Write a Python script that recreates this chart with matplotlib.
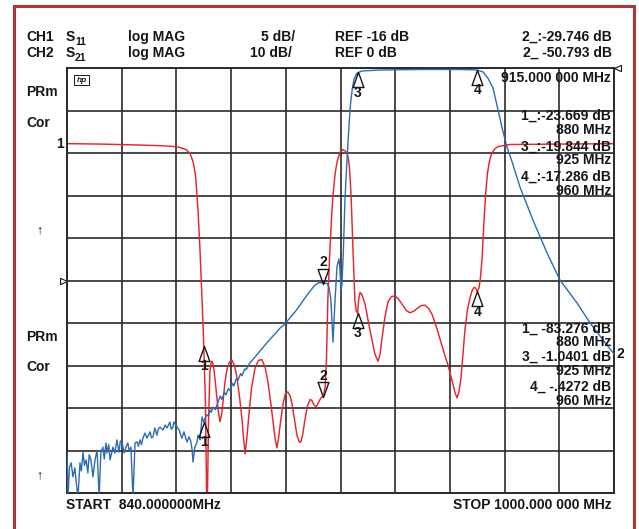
import numpy as np
import matplotlib
matplotlib.use("Agg")
import matplotlib.pyplot as plt
from matplotlib.path import Path
from matplotlib.patches import Rectangle

plt.rcParams['font.family'] = ['Liberation Sans', 'DejaVu Sans']

W, H = 639, 529  # output size in pixels

# sweep
f_start = 840.0
f_stop = 1000.0
f_div = 16.0

# CH1: S11 log MAG, 5 dB/div, REF -16 dB on the centre line
s11_ref = -16.0
s11_div = 5.0
s11_trace = [
    (840.0, 0.1), (850.0, 0.05), (860.0, -0.05), (868.0, -0.15), (871.6, -0.25),
    (873.0, -0.35), (874.8, -0.6), (876.0, -1.06), (876.85, -2.0), (877.3, -2.9),
    (877.7, -4.1), (878.3, -7.6), (878.9, -12.4), (879.5, -18.2), (880.0, -23.67),
    (880.5, -30.5), (880.95, -45.0),
    (881.4, -32.4), (881.8, -26.8), (882.1, -25.7), (882.4, -25.5), (882.8, -26.0),
    (883.3, -27.6), (884.2, -31.2), (884.75, -32.6),
    (885.2, -31.8), (885.6, -30.4), (886.2, -28.0), (886.8, -26.4), (887.5, -25.6),
    (888.3, -25.4), (889.0, -26.0), (889.7, -27.4), (890.5, -29.8), (891.2, -32.4),
    (891.7, -34.8), (892.1, -36.4),
    (892.6, -34.6), (893.2, -31.8), (894.0, -28.6), (895.0, -26.3), (896.0, -25.4),
    (897.0, -25.3), (898.0, -26.3), (898.8, -28.0), (899.6, -30.4), (900.25, -32.6),
    (900.9, -34.7), (901.4, -35.7),
    (901.9, -34.5), (902.6, -32.2), (903.3, -30.3), (903.9, -29.3), (904.6, -29.1),
    (905.3, -29.6), (905.8, -30.5), (906.6, -32.5), (907.3, -34.3), (908.0, -35.0),
    (908.4, -35.0),
    (908.9, -34.2), (909.6, -32.4), (910.3, -30.8), (911.1, -30.0), (911.6, -30.1),
    (912.2, -30.6), (912.8, -30.9), (913.4, -30.5), (914.0, -30.0), (914.6, -29.7),
    (915.0, -29.75), (915.5, -28.5), (915.9, -25.3), (916.3, -18.2), (916.9, -12.35),
    (917.4, -8.5), (917.8, -6.0), (918.4, -3.5), (919.0, -2.0), (919.85, -0.94),
    (920.7, -0.6), (921.6, -0.82), (922.2, -1.4), (922.6, -2.6), (923.1, -6.0),
    (923.65, -12.35), (924.2, -18.2), (924.6, -19.6), (925.0, -19.84),
    (925.3, -18.3), (925.7, -17.4), (926.2, -17.6), (927.2, -18.8), (928.6, -21.8),
    (930.1, -24.7), (931.0, -25.5), (931.6, -24.6), (932.1, -22.9), (933.0, -20.3),
    (933.9, -18.5), (934.9, -17.9), (935.9, -17.8), (937.0, -18.2), (938.0, -18.8),
    (939.2, -19.5), (940.3, -19.8), (941.5, -19.6), (942.7, -19.2), (943.7, -18.95),
    (944.7, -18.9), (945.8, -19.3), (946.8, -20.0), (948.0, -21.4), (949.1, -22.9),
    (950.3, -24.5), (951.4, -25.9), (952.2, -27.1), (952.9, -28.2), (953.5, -29.2),
    (954.1, -29.8), (954.6, -29.2), (955.2, -27.6), (955.8, -24.8), (956.4, -21.8),
    (957.1, -19.5), (957.9, -18.0), (958.5, -17.2), (959.05, -16.8), (959.5, -16.9),
    (960.0, -17.29), (960.5, -16.9), (960.9, -15.8), (961.4, -13.5), (962.0, -8.8),
    (962.55, -5.3), (963.0, -3.4), (963.4, -2.35), (964.0, -1.3), (964.6, -0.82),
    (965.3, -0.45), (966.1, -0.24), (969.6, 0.0), (985.0, 0.05), (1000.0, 0.1),
]

# CH2: S21 log MAG, 10 dB/div, REF 0 dB on the top line
s21_ref = 0.0
s21_div = 10.0
s21_trace = [
    (840.0, -90.6), (840.3, -101.0), (840.7, -94.0), (841.2, -92.9), (841.75, -96.2),
    (842.3, -94.1), (842.7, -97.5), (843.2, -101.0), (843.8, -92.9), (844.2, -94.8),
    (844.7, -90.4), (845.1, -93.5), (845.6, -92.2), (846.1, -95.3), (846.5, -91.0),
    (847.0, -92.2), (847.6, -96.2), (848.2, -92.2), (848.8, -89.9), (849.4, -101.0),
    (849.9, -90.6), (850.5, -89.2), (850.9, -92.0), (851.4, -88.2), (851.7, -90.6),
    (852.2, -88.6), (852.6, -92.2), (853.45, -89.2), (854.0, -90.6), (854.6, -87.5),
    (855.2, -90.4), (855.6, -87.8), (856.1, -88.0), (856.7, -90.6), (857.25, -89.2),
    (857.8, -88.2), (858.2, -90.2), (858.7, -89.2), (859.3, -101.0), (859.9, -88.2),
    (860.5, -88.0), (860.9, -89.0), (861.35, -87.5), (861.8, -88.6), (862.2, -87.1),
    (862.8, -85.9), (863.4, -87.1), (864.3, -85.6), (864.7, -87.0), (865.15, -86.8),
    (865.7, -84.7), (866.3, -86.4), (866.7, -85.0), (867.2, -84.5), (868.1, -85.2),
    (868.7, -84.0), (869.25, -84.7), (870.1, -83.3), (870.5, -85.0), (871.0, -84.5),
    (871.3, -83.3), (872.2, -84.5), (872.8, -85.2), (873.6, -87.1), (874.2, -85.6),
    (875.1, -88.0), (875.7, -86.8), (876.2, -87.8), (876.6, -89.9), (876.85, -92.7),
    (877.4, -89.2), (878.0, -88.2), (878.3, -86.4), (878.9, -87.5), (879.5, -82.1),
    (880.0, -83.3), (880.5, -82.2), (880.95, -81.6), (881.4, -81.9), (881.8, -80.5),
    (882.2, -81.0), (882.7, -79.8), (883.4, -80.4), (884.2, -78.6), (884.8, -77.2),
    (885.3, -78.0), (886.0, -76.3), (886.5, -76.9), (887.2, -75.4), (887.7, -75.9),
    (888.4, -74.2), (888.85, -74.8), (889.5, -73.1), (890.0, -73.5), (890.8, -71.9),
    (891.2, -72.4), (892.0, -70.8), (892.4, -71.0), (893.5, -69.4), (895.0, -68.0),
    (896.45, -66.6), (897.9, -65.2), (899.4, -63.8), (900.8, -62.6), (902.3, -61.2),
    (903.8, -60.2), (905.2, -58.8), (906.7, -57.4), (908.15, -55.8), (909.6, -54.1),
    (911.1, -52.5), (912.5, -51.1), (913.7, -50.5), (914.9, -50.6), (916.05, -50.7),
    (916.6, -51.5), (917.2, -54.6), (917.8, -64.5), (918.4, -54.6), (919.0, -46.6),
    (919.55, -44.9), (919.85, -47.5), (920.1, -52.2), (920.4, -51.3), (920.85, -42.8),
    (921.3, -31.1), (921.9, -21.6), (922.5, -13.4), (922.9, -8.7), (923.4, -5.2),
    (923.95, -2.6), (924.8, -1.2), (926.3, -0.7), (931.55, -0.47), (943.25, -0.35),
    (955.0, -0.35), (959.9, -0.45), (961.7, -0.94), (963.1, -2.35), (964.6, -4.7),
    (966.1, -9.9), (967.2, -13.9), (968.7, -18.6), (970.2, -22.1), (972.5, -28.0),
    (976.3, -35.8), (980.4, -43.5), (984.2, -49.9), (989.2, -55.3), (993.0, -60.0),
    (996.8, -64.0), (1000.0, -67.3),
]

# markers, same frequencies on both channels; marker 2 is the active one
mk_label = ['1', '2', '3', '4']
mk_freq = [880.0, 915.0, 925.0, 960.0]
mk_s11 = [-23.669, -29.746, -19.844, -17.286]
mk_s21 = [-83.276, -50.793, -1.0401, -0.4272]
mk_active = [False, True, False, False]

# readouts (value, frequency)
s11_read = [('1_:-23.669 dB', '880 MHz'), ('3_:-19.844 dB', '925 MHz'),
            ('4_:-17.286 dB', '960 MHz')]
s21_read = [('1_ -83.276 dB', '880 MHz'), ('3_ -1.0401 dB', '925 MHz'),
            ('4_ -.4272 dB', '960 MHz')]

RED = '#e5262f'
BLUE = '#2b6cb5'
INK = '#161616'
GRID = '#2a2a2a'


def fx(x):
    return x / W


def fy(y):
    return 1 - y / H


fig = plt.figure(figsize=(W / 100, H / 100), dpi=100)
fig.patch.set_facecolor('white')

ax1 = fig.add_axes([fx(67), fy(493), 547 / W, 425 / H])
ax1.set_xlim(f_start, f_stop)
ax1.set_ylim(s11_ref - 5 * s11_div, s11_ref + 5 * s11_div)
ax1.set_xticks(np.arange(f_start, f_stop + 1, f_div))
ax1.set_yticks(np.arange(s11_ref - 5 * s11_div, s11_ref + 5 * s11_div + 0.1, s11_div))
ax1.tick_params(length=0, labelbottom=False, labelleft=False)
ax1.grid(True, color=GRID, lw=1.2)
for sp in ax1.spines.values():
    sp.set_color(GRID)
    sp.set_linewidth(1.4)

ax2 = ax1.twinx()
ax2.set_ylim(s21_ref - 10 * s21_div, s21_ref)
ax2.axis('off')

f11, d11 = zip(*s11_trace)
f21, d21 = zip(*s21_trace)
ax1.plot(f11, d11, color=RED, lw=1.05)
ax2.plot(f21, d21, color=BLUE, lw=1.0)

# marker triangles, tip on the trace
up = Path([(0, 0), (-0.36, -1), (0.36, -1), (0, 0)],
          [Path.MOVETO, Path.LINETO, Path.LINETO, Path.CLOSEPOLY])
down = Path([(0, 0), (-0.36, 1), (0.36, 1), (0, 0)],
            [Path.MOVETO, Path.LINETO, Path.LINETO, Path.CLOSEPOLY])
for ax, vals in ((ax1, mk_s11), (ax2, mk_s21)):
    for lab, f, v, act in zip(mk_label, mk_freq, vals, mk_active):
        ax.plot(f, v, marker=down if act else up, ms=21.6, mfc='none',
                mec=INK, mew=1.0, ls='none', clip_on=False)
        ax.annotate(lab, (f, v), xytext=(0, 15.5 if act else -14.5),
                    textcoords='offset points', ha='center', va='center',
                    fontsize=10, fontweight='bold', color=INK)

# trace ids and reference pointers
ax1.annotate('1', (f11[0], d11[0]), xytext=(-2, 0), textcoords='offset points',
             ha='right', va='center', fontsize=10, fontweight='bold',
             color=INK, annotation_clip=False)
ax2.annotate('2', (f21[-1], d21[-1]), xytext=(1.5, 0), textcoords='offset points',
             ha='left', va='center', fontsize=10, fontweight='bold',
             color=INK, annotation_clip=False)
right_ptr = Path([(0, 0), (-1, 0.45), (-1, -0.45), (0, 0)],
                 [Path.MOVETO, Path.LINETO, Path.LINETO, Path.CLOSEPOLY])
left_ptr = Path([(0, 0), (1, 0.45), (1, -0.45), (0, 0)],
                [Path.MOVETO, Path.LINETO, Path.LINETO, Path.CLOSEPOLY])
ax1.plot(f_start, s11_ref, marker=right_ptr, ms=10, mfc='white', mec=INK,
         mew=0.8, clip_on=False)
ax2.plot(f_stop, s21_ref, marker=left_ptr, ms=10, mfc='white', mec=INK,
         mew=0.8, clip_on=False)


def label(x, y, s, ha='left', size=10, weight='bold', **kw):
    fig.text(fx(x), fy(y), s, ha=ha, va='center', fontsize=size,
             fontweight=weight, color=INK, **kw)


# header
label(26, 37, 'CH1')
label(66, 37, 'S')
label(75, 42, '11', size=7.5)
label(128, 37, 'log MAG')
label(295, 37, '5 dB/', ha='right')
label(335, 37, 'REF -16 dB')
label(612, 37, '2_:-29.746 dB', ha='right')
label(26, 53, 'CH2')
label(66, 53, 'S')
label(75, 58, '21', size=7.5)
label(128, 53, 'log MAG')
label(292, 53, '10 dB/', ha='right')
label(335, 53, 'REF 0 dB')
label(612, 53, '2_ -50.793 dB', ha='right')

# marker readouts, value over frequency
label(611, 78.5, '915.000 000 MHz', ha='right')
for (val, frq), y in zip(s11_read, [122.5, 153.5, 184]):
    label(611, y, val + '\n' + frq, ha='right', multialignment='right',
          linespacing=1.0)
for (val, frq), y in zip(s21_read, [335.5, 364, 394]):
    label(611, y, val + '\n' + frq, ha='right', multialignment='right',
          linespacing=1.0)

# left annotations
label(26, 92, 'PRm')
label(26, 123, 'Cor')
label(39, 230, '\u2191', ha='center', size=9, weight='normal')
label(26, 337, 'PRm')
label(26, 367, 'Cor')
label(39, 475, '\u2191', ha='center', size=9, weight='normal')

# hp logo
fig.patches.append(Rectangle((fx(74), fy(85)), 15 / W, 10 / H, transform=fig.transFigure,
                             fill=False, ec=INK, lw=0.7))
fig.text(fx(81.5), fy(80), 'hp', ha='center', va='center', fontsize=6,
         style='italic', fontweight='bold', color=INK)

# footer
label(66, 505, 'START  840.000000MHz')
label(612, 505, 'STOP 1000.000 000 MHz', ha='right')

# outer frame
fig.patches.append(Rectangle((fx(14), fy(545)), 620 / W, 539 / H,
                             transform=fig.transFigure, fill=False,
                             ec='#ad3535', lw=2.2))

fig.savefig('out.png', dpi=100)
